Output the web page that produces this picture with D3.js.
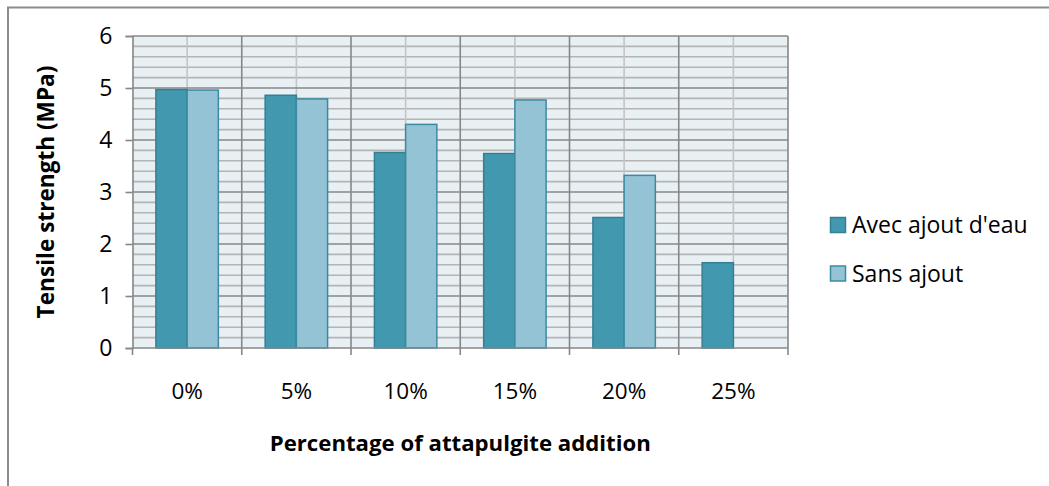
<!DOCTYPE html>
<html>
<head>
<meta charset="utf-8">
<script src="https://cdn.jsdelivr.net/npm/d3@7"></script>
<style>
  html, body { margin: 0; padding: 0; background: #fff; }
  svg { display: block; }
  text { font-family: "Open Sans", sans-serif; fill: #000; }
</style>
</head>
<body>
<svg id="chart" width="1049" height="486"></svg>
<script>
// Tensile strength by attapulgite addition
const categories = ["0%", "5%", "10%", "15%", "20%", "25%"];
const seriesNames = ["Avec ajout d'eau", "Sans ajout"];
const avecAjout = [4.97, 4.86, 3.76, 3.74, 2.51, 1.64];
const sansAjout = [4.96, 4.79, 4.30, 4.77, 3.32, null];
const yTicks = [0, 1, 2, 3, 4, 5, 6];
const yMinorStep = 0.2;

const colors = {
  fill: ["#4298ae", "#93c3d5"],
  stroke: ["#347f93", "#3a8ba0"],
  plotBg: "#e9f0f4",
  gridMajor: "#878787",
  gridMinor: "#b4b4b4",
  gridMinorV: "#c4c4c4",
  frame: "#8c8c8c"
};

const FONT = "'Open Sans', sans-serif";
const svg = d3.select("#chart");
const plot = { left: 132.5, right: 788, top: 36, bottom: 348 };

const x = d3.scaleBand().domain(categories).range([plot.left, plot.right]).paddingInner(0).paddingOuter(0);
const y = d3.scaleLinear().domain([0, 6]).range([plot.bottom, plot.top]);

// outer chart frame (continues past the right and bottom edges)
svg.append("path")
  .attr("d", `M8,${486 + 5} L8,7.5 L${1049 + 5},7.5`)
  .attr("fill", "none").attr("stroke", colors.frame).attr("stroke-width", 2);

// plot background
svg.append("rect")
  .attr("x", plot.left).attr("y", plot.top)
  .attr("width", plot.right - plot.left).attr("height", plot.bottom - plot.top)
  .attr("fill", colors.plotBg);

const grid = svg.append("g");

// minor horizontal grid every 0.2
const minorVals = d3.range(0, 6 + 1e-9, yMinorStep).filter(v => Math.abs(v - Math.round(v)) > 1e-6);
grid.selectAll("line.hmin").data(minorVals).join("line")
  .attr("x1", plot.left).attr("x2", plot.right)
  .attr("y1", d => y(d)).attr("y2", d => y(d))
  .attr("stroke", colors.gridMinor).attr("stroke-width", 1.6);

// minor vertical grid at category centres
grid.selectAll("line.vmin").data(categories).join("line")
  .attr("x1", d => x(d) + x.bandwidth() / 2).attr("x2", d => x(d) + x.bandwidth() / 2)
  .attr("y1", plot.top).attr("y2", plot.bottom)
  .attr("stroke", colors.gridMinorV).attr("stroke-width", 1.6);

// major horizontal grid
grid.selectAll("line.hmaj").data(yTicks.slice(1)).join("line")
  .attr("x1", plot.left).attr("x2", plot.right)
  .attr("y1", d => y(d)).attr("y2", d => y(d))
  .attr("stroke", colors.gridMajor).attr("stroke-width", 1.6);

// major vertical grid at category boundaries
const bounds = categories.map(c => x(c)).concat([plot.right]);
grid.selectAll("line.vmaj").data(bounds.slice(1)).join("line")
  .attr("x1", d => d).attr("x2", d => d)
  .attr("y1", plot.top).attr("y2", plot.bottom)
  .attr("stroke", colors.gridMajor).attr("stroke-width", 1.6);

// bars: Excel style gap width 150%
const groupW = x.bandwidth() / (2 + 1.5) * 2;
const xs = d3.scaleBand().domain([0, 1]).range([0, groupW]).padding(0);
const series = [avecAjout, sansAjout];
series.forEach((vals, si) => {
  svg.append("g").selectAll("rect").data(vals.map((v, i) => ({ v, c: categories[i] })).filter(d => d.v != null))
    .join("rect")
    .attr("x", d => x(d.c) + (x.bandwidth() - groupW) / 2 + xs(si))
    .attr("width", xs.bandwidth())
    .attr("y", d => y(d.v))
    .attr("height", d => y(0) - y(d.v))
    .attr("fill", colors.fill[si])
    .attr("stroke", colors.stroke[si])
    .attr("stroke-width", 1.5);
});

// y axis
const yAxis = svg.append("g")
  .attr("transform", `translate(${plot.left},0)`)
  .call(d3.axisLeft(y).tickValues(yTicks).tickFormat(d3.format("d")).tickSize(7).tickPadding(13));
yAxis.select(".domain").attr("stroke", colors.gridMajor).attr("stroke-width", 1.6);
yAxis.selectAll(".tick line").attr("stroke", colors.gridMajor).attr("stroke-width", 1.6);
yAxis.selectAll(".tick text").attr("font-size", 23).attr("font-family", FONT).attr("fill", "#000");

// x axis: ticks at category boundaries, labels centred
const xAxisG = svg.append("g").attr("transform", `translate(0,${plot.bottom})`);
xAxisG.append("line")
  .attr("x1", plot.left).attr("x2", plot.right).attr("y1", 0).attr("y2", 0)
  .attr("stroke", colors.gridMajor).attr("stroke-width", 1.6);
xAxisG.selectAll("line.tk").data(bounds).join("line")
  .attr("x1", d => d).attr("x2", d => d).attr("y1", 0).attr("y2", 7)
  .attr("stroke", colors.gridMajor).attr("stroke-width", 1.6);
xAxisG.selectAll("text").data(categories).join("text")
  .attr("x", d => x(d) + x.bandwidth() / 2)
  .attr("y", 51)
  .attr("text-anchor", "middle")
  .attr("font-size", 22.5)
  .text(d => d);

// axis titles
svg.append("text")
  .attr("x", (plot.left + plot.right) / 2).attr("y", 451)
  .attr("text-anchor", "middle").attr("font-weight", "bold").attr("font-size", 22.2)
  .text("Percentage of attapulgite addition");

svg.append("text")
  .attr("transform", `translate(45,${(plot.top + plot.bottom) / 2}) rotate(-90)`)
  .attr("text-anchor", "middle").attr("dominant-baseline", "central")
  .attr("font-weight", "bold").attr("font-size", 22.6)
  .text("Tensile strength (MPa)");

// legend
const legend = svg.append("g").attr("transform", "translate(830.5,217.5)");
seriesNames.forEach((name, i) => {
  const g = legend.append("g").attr("transform", `translate(0,${i * 48.5})`);
  g.append("rect").attr("x", 0).attr("y", 0).attr("width", 15).attr("height", 15)
    .attr("fill", colors.fill[i]).attr("stroke", colors.stroke[i]).attr("stroke-width", 1.5);
  g.append("text").attr("x", 21.5).attr("y", 15.5).attr("font-size", 23).text(name);
});
</script>
</body>
</html>
